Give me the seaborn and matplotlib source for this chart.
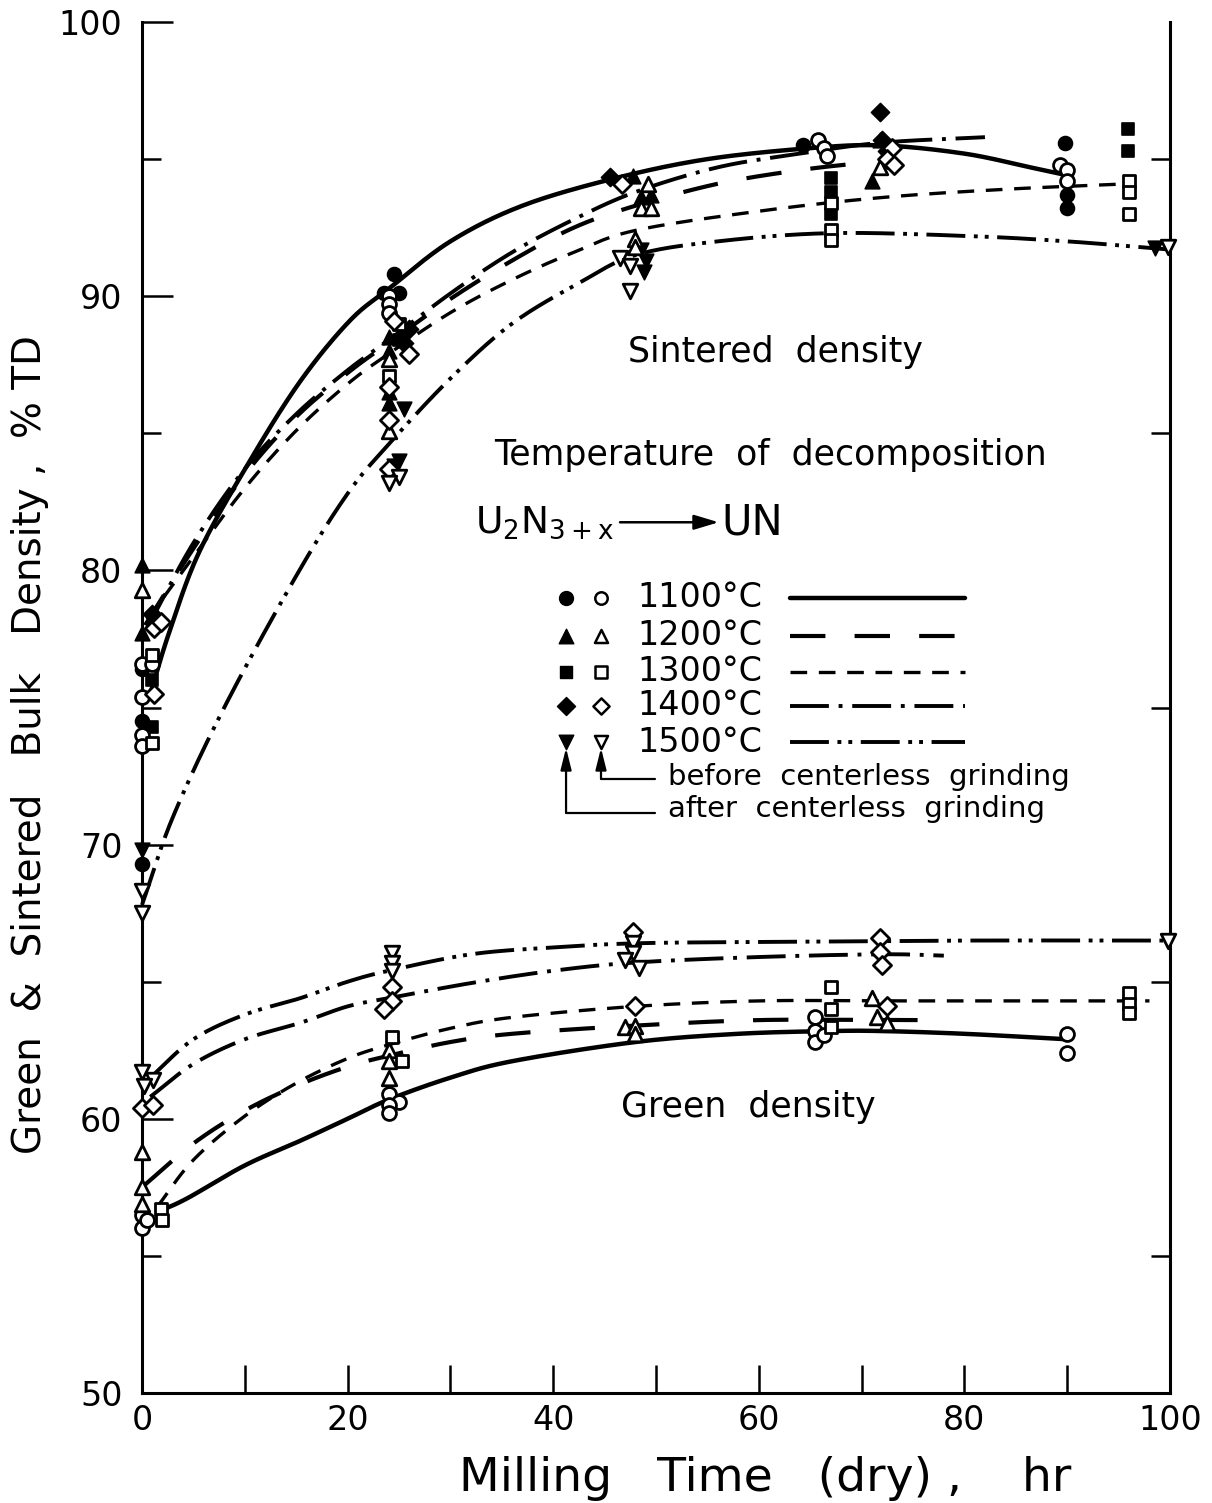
import numpy as np
import matplotlib
matplotlib.use("Agg")
import matplotlib.pyplot as plt
import seaborn as sns

sns.set_theme(style="white")
plt.rcParams["font.family"] = ["DejaVu Sans"]
plt.rcParams["mathtext.default"] = "regular"
plt.rcParams["text.color"] = "black"
plt.rcParams["axes.labelcolor"] = "black"

temps = ["1100°C", "1200°C", "1300°C", "1400°C", "1500°C"]
marker_of = {"1100°C": "o", "1200°C": "^", "1300°C": "s", "1400°C": "D", "1500°C": "v"}

# ---- sintered density, after centerless grinding (filled symbols) ----
s_after_t = {
    "1100°C": [0, 0, 0, 23.5, 24.5, 25, 64.3, 89.8, 90, 90],
    "1200°C": [0, 0, 24, 24, 24, 24, 47.8, 48.5, 49.5, 71, 71.8],
    "1300°C": [1, 1, 25, 67, 67, 67, 95.9, 95.9],
    "1400°C": [1, 26, 25.5, 45.5, 71.8, 72, 72.5],
    "1500°C": [0, 25.5, 25, 24.5, 48.5, 49, 48.8, 98.5],
}
s_after_d = {
    "1100°C": [76.4, 74.5, 69.3, 90.1, 90.8, 90.1, 95.5, 95.6, 93.7, 93.2],
    "1200°C": [80.2, 77.7, 88.5, 88.0, 86.5, 86.1, 94.4, 93.6, 93.7, 94.2, 95.7],
    "1300°C": [76.0, 74.3, 88.4, 94.3, 93.8, 93.0, 96.1, 95.3],
    "1400°C": [78.4, 88.8, 88.3, 94.35, 96.7, 95.7, 95.3],
    "1500°C": [69.8, 85.9, 84.0, 83.8, 91.7, 91.3, 90.9, 91.75],
}

# ---- sintered density, before centerless grinding (open symbols) ----
s_before_t = {
    "1100°C": [0, 0, 0, 0, 1, 24, 24, 24, 65.8, 66.3, 66.6, 89.3, 90, 90],
    "1200°C": [0, 24, 24, 49.2, 48.5, 49.5, 48, 48, 71.8],
    "1300°C": [1, 1, 24, 25, 67, 67, 67, 96, 96, 96],
    "1400°C": [1.2, 1.2, 1.8, 24.5, 26, 24, 24, 24, 46.7, 73, 72.5, 73.2],
    "1500°C": [0, 0, 25, 24, 46.5, 47.5, 47.5, 99.8],
}
s_before_d = {
    "1100°C": [76.6, 75.4, 74.0, 73.6, 76.6, 90.0, 89.7, 89.4, 95.7, 95.4, 95.1, 94.8, 94.6, 94.2],
    "1200°C": [79.3, 87.7, 85.1, 94.1, 93.2, 93.2, 92.1, 91.8, 94.7],
    "1300°C": [76.9, 73.7, 87.1, 89.0, 93.4, 92.4, 92.05, 94.2, 93.8, 93.0],
    "1400°C": [77.9, 75.5, 78.1, 89.1, 87.9, 86.7, 85.5, 83.7, 94.1, 95.4, 95.0, 94.8],
    "1500°C": [68.3, 67.5, 83.4, 83.2, 91.4, 91.1, 90.2, 91.8],
}

# ---- green density (open symbols) ----
g_t = {
    "1100°C": [0, 0, 0.5, 24, 25, 24, 24, 65.5, 65.5, 65.5, 66.3, 90, 90],
    "1200°C": [0, 0, 0, 24, 24, 24, 47, 48, 48, 71, 71.5, 72.5],
    "1300°C": [1.8, 1.9, 24.3, 25.3, 67, 67, 67, 96, 96, 96],
    "1400°C": [0, 1.1, 24.3, 24.3, 23.5, 47.8, 48, 71.8, 71.8, 72, 72.5],
    "1500°C": [0, 1.1, 0.2, 24.3, 24.3, 24.3, 47.8, 47.8, 47, 48.3, 99.8],
}
g_d = {
    "1100°C": [56.5, 56.0, 56.3, 60.9, 60.6, 60.5, 60.2, 63.7, 63.2, 62.8, 63.05, 63.1, 62.4],
    "1200°C": [58.8, 57.5, 56.9, 62.5, 62.1, 61.5, 63.35, 63.4, 63.1, 64.4, 63.7, 63.5],
    "1300°C": [56.7, 56.3, 63.0, 62.1, 64.8, 64.0, 63.35, 64.6, 64.2, 63.85],
    "1400°C": [60.4, 60.5, 64.8, 64.3, 64.0, 66.8, 64.1, 66.6, 66.1, 65.6, 64.1],
    "1500°C": [61.7, 61.4, 61.2, 66.05, 65.7, 65.4, 66.4, 66.05, 65.8, 65.5, 66.5],
}

# ---- hand-drawn trend curves (knots) ----
sint_curve_t = {
    "1100°C": [0.8, 2.7, 5.6, 10.5, 15.4, 20.2, 24.1, 30, 37, 46, 55, 65, 72, 80, 86.4, 89.5],
    "1200°C": [0.3, 5, 10, 15, 20, 24, 30, 36, 42, 48, 56, 64, 71],
    "1300°C": [0.5, 5, 10, 15, 20, 24, 30, 36, 42, 48, 60, 72, 84, 96],
    "1400°C": [0.5, 5, 10, 15, 20, 24, 30, 36, 42, 48, 56, 64, 72, 82],
    "1500°C": [0, 3, 8, 15, 20, 24, 30, 36, 42.6, 48, 56, 67, 80, 90, 100],
}
sint_curve_d = {
    "1100°C": [75.5, 77.8, 80.7, 84.0, 86.9, 89.1, 90.3, 92.0, 93.3, 94.3, 95.0, 95.4, 95.5, 95.2, 94.7, 94.45],
    "1200°C": [78.0, 80.8, 83.5, 85.6, 87.2, 88.3, 89.9, 91.3, 92.5, 93.3, 94.1, 94.6, 94.9],
    "1300°C": [78.2, 80.5, 83.0, 85.1, 86.8, 87.9, 89.4, 90.6, 91.6, 92.4, 93.1, 93.6, 93.9, 94.1],
    "1400°C": [77.9, 81.0, 83.7, 85.7, 87.3, 88.4, 90.1, 91.6, 92.8, 93.8, 94.7, 95.2, 95.6, 95.8],
    "1500°C": [67.8, 71.0, 75.0, 79.8, 82.8, 84.6, 87.0, 89.0, 90.5, 91.5, 92.0, 92.3, 92.2, 92.0, 91.7],
}
green_curve_t = {
    "1100°C": [1.5, 4.4, 10, 15.4, 20, 24, 30, 36, 48, 58, 67, 72, 80, 90],
    "1200°C": [0.3, 5, 10, 15, 20, 24, 30, 36, 48, 60, 72, 78],
    "1300°C": [1.5, 5, 10, 15, 20, 24, 30, 36, 48, 60, 72, 85, 98],
    "1400°C": [0.8, 5, 10, 15.4, 20, 24, 32, 40, 48, 60, 72, 78],
    "1500°C": [0.8, 5, 10, 15.4, 20, 24, 32, 40, 48, 60, 80, 100],
}
green_curve_d = {
    "1100°C": [56.6, 57.1, 58.3, 59.2, 60.0, 60.7, 61.5, 62.1, 62.8, 63.1, 63.2, 63.2, 63.1, 62.9],
    "1200°C": [57.6, 59.1, 60.3, 61.2, 61.9, 62.3, 62.8, 63.1, 63.4, 63.6, 63.6, 63.6],
    "1300°C": [56.8, 58.5, 60.1, 61.3, 62.2, 62.7, 63.3, 63.7, 64.1, 64.3, 64.3, 64.3, 64.3],
    "1400°C": [60.8, 62.0, 62.9, 63.5, 64.1, 64.4, 64.95, 65.4, 65.7, 65.9, 66.0, 65.95],
    "1500°C": [61.5, 62.9, 63.8, 64.4, 65.0, 65.4, 66.0, 66.25, 66.4, 66.45, 66.5, 66.5],
}

line_style = {
    "1100°C": dict(lw=3.2, linestyle="-"),
    "1200°C": dict(lw=3.0, linestyle=(0, (8.5, 7))),
    "1300°C": dict(lw=2.4, linestyle=(0, (5, 3.5))),
    "1400°C": dict(lw=2.8, linestyle=(0, (10, 2.5, 1, 2.5))),
    "1500°C": dict(lw=2.8, linestyle=(0, (10, 2.2, 1, 1.8, 1, 2.2))),
}
marker_size = {"1100°C": 100, "1200°C": 110, "1300°C": 85, "1400°C": 85, "1500°C": 110}


def smooth(xs, ys, n=24):
    """Catmull-Rom curve through the knots."""
    p = np.column_stack([xs, ys]).astype(float)
    p = np.vstack([2 * p[0] - p[1], p, 2 * p[-1] - p[-2]])
    seg = []
    t = np.linspace(0, 1, n, endpoint=False)[:, None]
    for i in range(1, len(p) - 2):
        p0, p1, p2, p3 = p[i - 1], p[i], p[i + 1], p[i + 2]
        seg.append(0.5 * (2 * p1 + (-p0 + p2) * t
                          + (2 * p0 - 5 * p1 + 4 * p2 - p3) * t ** 2
                          + (-p0 + 3 * p1 - 3 * p2 + p3) * t ** 3))
    seg.append(p[-2][None, :])
    c = np.vstack(seg)
    return c[:, 0], c[:, 1]


fig = plt.figure(figsize=(12.12, 15.03), dpi=100)
ax = fig.add_axes([142 / 1212, 1 - 1393 / 1503, 1028 / 1212, 1371 / 1503])

for tmp in temps:
    for ct, cd in ((sint_curve_t, sint_curve_d), (green_curve_t, green_curve_d)):
        sx, sy = smooth(ct[tmp], cd[tmp])
        sns.lineplot(x=sx, y=sy, sort=False, estimator=None, ax=ax, color="black",
                     zorder=2, clip_on=False, **line_style[tmp])

for tmp in temps:
    mk, ms = marker_of[tmp], marker_size[tmp]
    sns.scatterplot(x=s_after_t[tmp], y=s_after_d[tmp], marker=mk, s=ms, color="black",
                    edgecolor="black", linewidth=1.2, ax=ax, zorder=3, clip_on=False)
for tmp in temps:
    mk, ms = marker_of[tmp], marker_size[tmp]
    for xt, yd in ((s_before_t, s_before_d), (g_t, g_d)):
        sns.scatterplot(x=xt[tmp], y=yd[tmp], marker=mk, s=ms, color="white",
                        edgecolor="black", linewidth=2.0, ax=ax, zorder=4, clip_on=False)

ax.set_xlim(0, 100)
ax.set_ylim(50, 100)

# ---- key (drawn in axes-fraction coordinates) ----
tr = ax.transAxes
rows = [0.5799, 0.5522, 0.5259, 0.5011, 0.4748]
for tmp, ry in zip(temps, rows):
    mk, ms = marker_of[tmp], marker_size[tmp]
    ax.scatter([0.4125], [ry], marker=mk, s=ms, color="black", transform=tr, zorder=5)
    ax.scatter([0.4465], [ry], marker=mk, s=ms * 0.8, facecolor="white",
               edgecolor="black", linewidth=1.8, transform=tr, zorder=5)
    ax.text(0.4815, ry, tmp, transform=tr, fontsize=24, va="center", ha="left")
    ax.plot([0.6304, 0.8006], [ry, ry], color="black", transform=tr, **line_style[tmp])

# arrows pointing at the filled / open symbol columns
arrow_kw = dict(arrowstyle="-|>,head_length=1.0,head_width=0.25", color="black",
                lw=1.6, mutation_scale=13, shrinkA=0, shrinkB=0)
tip_y = 0.4705
ax.annotate("", xy=(0.4125, tip_y), xytext=(0.4125, 0.4233), xycoords=tr,
            textcoords=tr, arrowprops=arrow_kw)
ax.plot([0.4125, 0.4990], [0.4233, 0.4233], color="black", lw=1.6, transform=tr)
ax.annotate("", xy=(0.4465, tip_y), xytext=(0.4465, 0.4481), xycoords=tr,
            textcoords=tr, arrowprops=arrow_kw)
ax.plot([0.4465, 0.4990], [0.4481, 0.4481], color="black", lw=1.6, transform=tr)
ax.text(0.5117, 0.4496, "before  centerless  grinding", transform=tr, fontsize=21,
        va="center", ha="left")
ax.text(0.5117, 0.4263, "after  centerless  grinding", transform=tr, fontsize=21,
        va="center", ha="left")

ax.text(0.6158, 0.7592, "Sintered  density", transform=tr, fontsize=25, ha="center", va="center")
ax.text(0.6109, 0.6841, "Temperature  of  decomposition", transform=tr, fontsize=25,
        ha="center", va="center")
ax.text(0.3239, 0.6351, r"U$_2$N$_{3+x}$", transform=tr, fontsize=27, ha="left", va="center")
ax.annotate("", xy=(0.5610, 0.6351), xytext=(0.4650, 0.6351), xycoords=tr, textcoords=tr,
            arrowprops=dict(arrowstyle="-|>,head_length=1.0,head_width=0.3", color="black",
                            lw=1.8, mutation_scale=15, shrinkA=0, shrinkB=0))
ax.text(0.5640, 0.6351, "UN", transform=tr, fontsize=30, ha="left", va="center")
ax.text(0.5895, 0.2086, "Green  density", transform=tr, fontsize=25, ha="center", va="center")

# ---- axes styling ----
ax.set_xticks(np.arange(0, 101, 20))
ax.set_xticks(np.arange(10, 100, 20), minor=True)
ax.set_yticks(np.arange(50, 101, 10))
ax.set_yticks(np.arange(55, 100, 10), minor=True)
ax.tick_params(axis="x", which="both", direction="in", length=20, width=1.8,
               labelsize=24, pad=8, bottom=True, top=False, colors="black")
ax.tick_params(axis="y", which="major", direction="in", length=22, width=1.8,
               labelsize=24, pad=14, left=True, right=False, colors="black")
ax.tick_params(axis="y", which="minor", direction="in", length=14, width=1.8,
               left=True, right=True, colors="black")
for side in ("left", "right", "bottom"):
    ax.spines[side].set_color("black")
    ax.spines[side].set_linewidth(2.2)
ax.spines["top"].set_visible(False)
ax.grid(False)

ax.set_xlabel("Milling   Time   (dry) ,    hr", fontsize=34, color="black")
ax.xaxis.set_label_coords(0.606, -0.046)
ax.set_ylabel("Green  &  Sintered   Bulk   Density ,  % TD", fontsize=28, color="black")
ax.yaxis.set_label_coords(-0.090, 0.473)

fig.savefig("out.png", dpi=100, facecolor="white")
